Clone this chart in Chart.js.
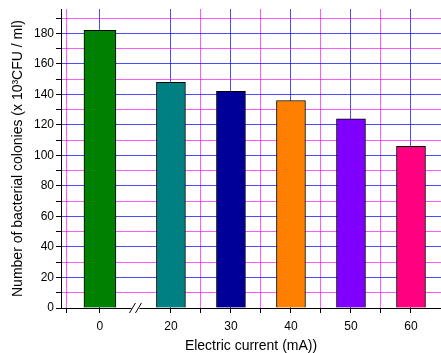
<!DOCTYPE html>
<html>
<head>
<meta charset="utf-8">
<script src="https://cdn.jsdelivr.net/npm/chart.js@4.4.0/dist/chart.umd.min.js"></script>
<style>
    html, body { margin: 0; padding: 0; background: #fff; }
    #wrap { width: 441px; height: 353px; }
</style>
</head>
<body>
<div id="wrap"><canvas id="coloniesChart"></canvas></div>
<script>
const currents = [0, 20, 30, 40, 50, 60];
const colonies = [182, 148, 142, 136, 124, 106];
const barColors = ['#008000', '#008080', '#000099', '#ff8000', '#8000ff', '#ff0080'];
const xTickLabels = ['0', '20', '30', '40', '50', '60'];
const xMinorTicks = [-5, 25, 35, 45, 55, 65];
const yMajorTicks = [0, 20, 40, 60, 80, 100, 120, 140, 160, 180];
const yMinorTicks = [10, 30, 50, 70, 90, 110, 130, 150, 170, 190];

// broken x axis: the 0 mA group sits left of the break, 20..60 mA on a normal scale
const BREAK_AT = 20;
const ZERO_POS = 8.17;
const LOW_STRETCH = 1.1;
function axisPos(c) {
    return c < BREAK_AT ? ZERO_POS + c * LOW_STRETCH : c;
}

const BLUE_GRID = 'rgba(0, 0, 255, 0.7)';
const PINK_GRID = 'rgba(255, 0, 255, 0.65)';
const FONT = 'Liberation Sans, Arial, sans-serif';

function pointsWhere(test) {
    const pts = [];
    const colors = [];
    currents.forEach((c, i) => {
        if (test(c)) {
            pts.push({ x: axisPos(c), y: colonies[i] });
            colors.push(barColors[i]);
        }
    });
    return { pts, colors };
}

const lowPart = pointsWhere((c) => c < BREAK_AT);
const highPart = pointsWhere((c) => c >= BREAK_AT);

const axisBreak = {
    id: 'axisBreak',
    afterDraw(chart) {
        const xs = chart.scales.x;
        const ctx = chart.ctx;
        const mid = (xs.getPixelForValue(axisPos(0)) + xs.getPixelForValue(BREAK_AT)) / 2;
        const y = chart.chartArea.bottom;
        ctx.save();
        ctx.fillStyle = '#fff';
        ctx.fillRect(mid - 4, y - 2, 8, 4);
        ctx.strokeStyle = '#000';
        ctx.lineWidth = 1;
        [-3, 3].forEach((dx) => {
            ctx.beginPath();
            ctx.moveTo(mid + dx - 3, y + 5);
            ctx.lineTo(mid + dx + 3, y - 5);
            ctx.stroke();
        });
        ctx.restore();
    }
};

new Chart(document.getElementById('coloniesChart'), {
    type: 'bar',
    data: {
        datasets: [{
            data: lowPart.pts,
            backgroundColor: lowPart.colors,
            borderColor: '#000',
            borderWidth: 1,
            barThickness: 32
        }, {
            data: highPart.pts,
            backgroundColor: highPart.colors,
            borderColor: '#000',
            borderWidth: 1,
            barThickness: 29
        }]
    },
    options: {
        responsive: true,
        maintainAspectRatio: false,
        animation: false,
        grouped: false,
        layout: { padding: { top: 9, right: 0, left: 0, bottom: 0 } },
        plugins: {
            legend: { display: false },
            tooltip: { enabled: false }
        },
        scales: {
            x: {
                type: 'linear',
                offset: false,
                min: axisPos(-5.9),
                max: 65,
                afterBuildTicks(scale) {
                    const ticks = currents.map((c, i) => ({ value: axisPos(c), major: true, text: xTickLabels[i] }));
                    xMinorTicks.forEach((c) => ticks.push({ value: axisPos(c), major: false, text: '' }));
                    ticks.sort((a, b) => a.value - b.value);
                    scale.ticks = ticks;
                },
                afterFit(scale) {
                    scale.height = 45;
                    scale.paddingLeft = 0;
                    scale.paddingRight = 0;
                },
                ticks: {
                    autoSkip: false,
                    maxRotation: 0,
                    padding: 6,
                    color: '#000',
                    font: { family: FONT, size: 12 },
                    callback: function (v, i, ticks) { return ticks[i].text; }
                },
                grid: {
                    offset: false,
                    color: (ctx) => (ctx.tick && ctx.tick.major ? BLUE_GRID : PINK_GRID),
                    lineWidth: 1,
                    tickColor: '#000',
                    tickLength: 5
                },
                border: { color: '#000', width: 1 },
                title: {
                    display: true,
                    text: 'Electric current (mA))',
                    color: '#000',
                    font: { family: FONT, size: 14 },
                    padding: { top: 0, bottom: -2 }
                }
            },
            y: {
                min: 0,
                max: 196,
                afterBuildTicks(scale) {
                    const ticks = yMajorTicks.map((v) => ({ value: v, major: true }));
                    yMinorTicks.forEach((v) => ticks.push({ value: v, major: false }));
                    ticks.sort((a, b) => a.value - b.value);
                    scale.ticks = ticks;
                },
                afterFit(scale) {
                    scale.width = 61;
                    scale.paddingTop = 0;
                    scale.paddingBottom = 0;
                },
                ticks: {
                    autoSkip: false,
                    padding: 2,
                    color: '#000',
                    font: { family: FONT, size: 12 },
                    callback: function (v, i, ticks) { return ticks[i].major ? String(v) : ''; }
                },
                grid: {
                    color: (ctx) => (ctx.tick && ctx.tick.major ? BLUE_GRID : PINK_GRID),
                    lineWidth: 1,
                    tickColor: '#000',
                    tickLength: 5
                },
                border: { color: '#000', width: 1 },
                title: {
                    display: true,
                    text: 'Number of bacterial colonies (x 10³CFU / ml)',
                    color: '#000',
                    font: { family: FONT, size: 14 },
                    padding: { top: 10, bottom: 0 }
                }
            }
        }
    },
    plugins: [axisBreak]
});
</script>
</body>
</html>
